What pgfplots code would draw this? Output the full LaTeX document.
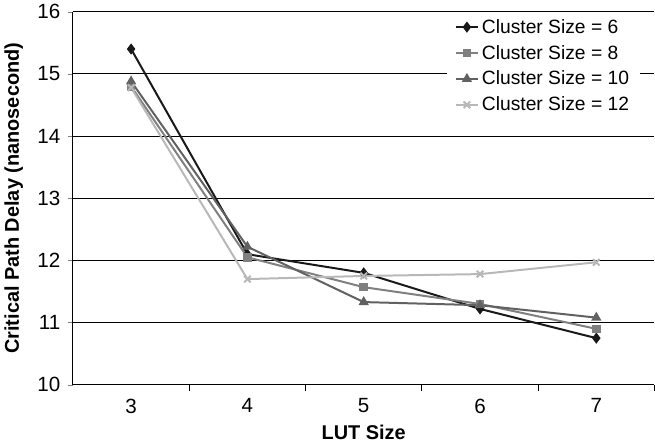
\documentclass[border=0pt]{standalone}
\usepackage{fontspec}
\setmainfont{Liberation Sans}
\usepackage{pgfplots}
\pgfplotsset{compat=1.18}
\begin{document}
\begin{tikzpicture}
\begin{axis}[
    scale only axis,
    width=438pt, height=281pt,
    xmin=2.5, xmax=7.5,
    ymin=10, ymax=16,
    axis lines*=left,
    axis line style={black, line width=0.8pt},
    xtick={3,4,5,6,7},
    major x tick style={draw=none},
    minor xtick={3.5,4.5,5.5,6.5,7.5},
    minor tick length=5pt,
    minor x tick style={black, line width=0.8pt},
    ytick={10,11,...,16},
    major tick length=4pt,
    tick align=outside,
    ymajorgrids,
    grid style={black, line width=0.8pt},
    tick label style={font=\fontsize{15.5}{18}\selectfont},
    xticklabel style={yshift=-3pt},
    yticklabel style={xshift=-2pt},
    /pgf/number format/assume math mode=true,
    xlabel={\textbf{LUT Size}},
    ylabel={\textbf{Critical Path Delay (nanosecond)}},
    label style={font=\fontsize{15}{18}\selectfont},
    ylabel style={yshift=4pt},
    xlabel style={yshift=-2pt},
    legend style={at={(0.975,0.995)}, anchor=north east, draw=none, fill=white,
        font=\fontsize{14.5}{17}\selectfont, row sep=3.5pt, inner xsep=6pt, inner ysep=2pt},
    legend cell align=left,
    every axis plot/.append style={line width=1.5pt},
]
\addplot[color=black!90, mark=diamond*, mark size=3pt] coordinates {(3,15.4) (4,12.1) (5,11.8) (6,11.22) (7,10.75)};
\addplot[color=black!50, mark=square*, mark size=2.5pt] coordinates {(3,14.8) (4,12.05) (5,11.57) (6,11.3) (7,10.9)};
\addplot[color=black!62, mark=triangle*, mark size=3pt] coordinates {(3,14.88) (4,12.22) (5,11.33) (6,11.28) (7,11.08)};
\addplot[color=black!28, mark=x, mark size=3.5pt] coordinates {(3,14.78) (4,11.7) (5,11.75) (6,11.78) (7,11.97)};
\legend{Cluster Size = 6, Cluster Size = 8, Cluster Size = 10, Cluster Size = 12}
\end{axis}
\end{tikzpicture}
\end{document}
